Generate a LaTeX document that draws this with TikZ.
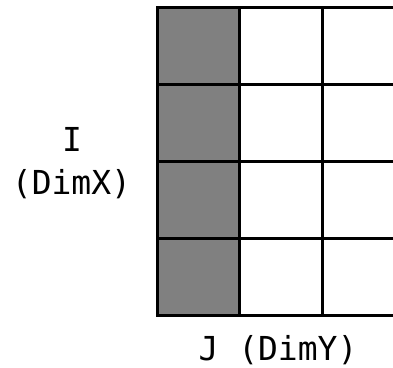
\documentclass[tikz,border=0pt]{standalone}
\usepackage{fontspec}
\setmonofont{DejaVu Sans Mono}
\begin{document}
\begin{tikzpicture}[x=1pt,y=-1pt,
  cell/.style={draw=black,line width=3pt},
  shaded/.style={cell,fill=black!50},
  lbl/.style={font=\ttfamily\fontsize{33}{44}\selectfont,anchor=base,inner sep=0pt}]
\useasboundingbox (0,0) rectangle (393,367);
\clip (0,0) rectangle (393,367);
\foreach \r in {0,1,2,3}{
  \foreach \c in {0,1,2}{
    \pgfmathsetmacro{\xa}{157+82.5*\c}
    \pgfmathsetmacro{\ya}{7+77*\r}
    \ifnum\c=0
      \draw[shaded] (\xa,\ya) rectangle ++(82.5,77) node[midway] (c\r\c) {};
    \else
      \draw[cell] (\xa,\ya) rectangle ++(82.5,77) node[midway] (c\r\c) {};
    \fi
  }
}
\node[lbl] (rowI) at (72,151) {I};
\node[lbl] (rowdim) at (71.5,194) {(DimX)};
\node[lbl] (colJ) at (278,360) {J (DimY)};
\end{tikzpicture}
\end{document}
